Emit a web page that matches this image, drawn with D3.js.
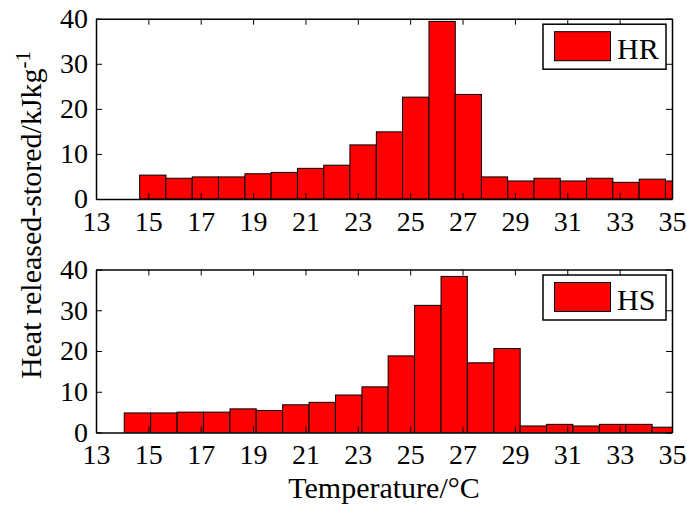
<!DOCTYPE html>
<html>
<head>
<meta charset="utf-8">
<script src="https://cdn.jsdelivr.net/npm/d3@7/dist/d3.min.js"></script>
<style>
  html, body { margin: 0; padding: 0; background: #fff; }
  svg { display: block; }
</style>
</head>
<body>
<svg id="chart" width="687" height="506"></svg>
<script>
// ---- data ----
const xTicks = [13, 15, 17, 19, 21, 23, 25, 27, 29, 31, 33, 35];
const yTicks = [0, 10, 20, 30, 40];
const binWidth = 1.004;

const hrCenters = [15.17, 16.17, 17.18, 18.18, 19.19, 20.19, 21.20, 22.20, 23.20, 24.21, 25.21,
                   26.22, 27.22, 28.22, 29.23, 30.23, 31.24, 32.24, 33.24, 34.25, 35.25];
const hrValues  = [5.3, 4.6, 4.9, 4.9, 5.6, 5.9, 6.8, 7.5, 12.0, 14.9, 22.6,
                   39.4, 23.2, 4.9, 4.0, 4.6, 4.0, 4.6, 3.7, 4.4, 4.0];

const hsCenters = [14.58, 15.59, 16.60, 17.61, 18.62, 19.62, 20.63, 21.64, 22.65, 23.66, 24.66,
                   25.67, 26.68, 27.69, 28.70, 29.70, 30.71, 31.72, 32.73, 33.74, 34.74];
const hsValues  = [4.8, 4.8, 5.0, 5.0, 5.8, 5.4, 6.8, 7.4, 9.2, 11.2, 18.8,
                   31.2, 38.3, 17.1, 20.6, 1.6, 2.0, 1.6, 2.0, 2.0, 1.3];

const xLabel = "Temperature/°C";
const yLabelMain = "Heat released-stored/kJkg";
const yLabelSup = "-1";

const FONT = "Liberation Serif, Times New Roman, Times, DejaVu Serif, serif";

// ---- layout ----
const svg = d3.select("#chart");
const left = 96, right = 672;
const panels = [
  { name: "HR", centers: hrCenters, values: hrValues, top: 18.7, bottom: 199 },
  { name: "HS", centers: hsCenters, values: hsValues, top: 269.5, bottom: 432.5 }
];

const x = d3.scaleLinear().domain([13, 35]).range([left, right]);

panels.forEach((p, i) => {
  const y = d3.scaleLinear().domain([0, 40]).range([p.bottom, p.top]);
  const g = svg.append("g");

  const clipId = "clip" + i;
  svg.append("clipPath").attr("id", clipId)
    .append("rect").attr("x", left).attr("y", p.top)
    .attr("width", right - left).attr("height", p.bottom - p.top);

  // bars
  g.append("g").attr("clip-path", `url(#${clipId})`)
    .selectAll("rect").data(p.values).join("rect")
    .attr("x", (d, k) => x(p.centers[k] - binWidth / 2))
    .attr("width", (d, k) => x(p.centers[k] + binWidth / 2) - x(p.centers[k] - binWidth / 2))
    .attr("y", d => y(d))
    .attr("height", d => y(0) - y(d))
    .attr("fill", "#ff0000")
    .attr("stroke", "#000")
    .attr("stroke-width", 1);

  // axes (inside ticks, box)
  const tickLen = 6;
  const axB = d3.axisBottom(x).tickValues(xTicks).tickSizeInner(-tickLen).tickSizeOuter(0).tickPadding(12);
  const axT = d3.axisTop(x).tickValues(xTicks).tickSizeInner(-tickLen).tickSizeOuter(0).tickFormat("");
  const axL = d3.axisLeft(y).tickValues(yTicks).tickSizeInner(-tickLen).tickSizeOuter(0).tickPadding(8);
  const axR = d3.axisRight(y).tickValues(yTicks).tickSizeInner(-tickLen).tickSizeOuter(0).tickFormat("");

  const styleAxis = sel => {
    sel.attr("font-family", FONT).attr("font-size", 28);
    sel.select(".domain").attr("stroke", "#000").attr("stroke-width", 1.5);
    sel.selectAll(".tick line").attr("stroke", "#000").attr("stroke-width", 1);
    sel.selectAll(".tick text").attr("fill", "#000").style("font-family", FONT);
  };

  g.append("g").attr("transform", `translate(0,${p.bottom})`).call(axB).call(styleAxis);
  g.append("g").attr("transform", `translate(0,${p.top})`).call(axT).call(styleAxis);
  g.append("g").attr("transform", `translate(${left},0)`).call(axL).call(styleAxis);
  g.append("g").attr("transform", `translate(${right},0)`).call(axR).call(styleAxis);

  // legend
  const lx = 543, ly = p.top + 5.5, lw = 123, lh = 45;
  const lg = g.append("g").attr("transform", `translate(${lx},${ly})`);
  lg.append("rect").attr("width", lw).attr("height", lh)
    .attr("fill", "#fff").attr("stroke", "#000").attr("stroke-width", 1.5);
  lg.append("rect").attr("x", 11.5).attr("y", 7.5).attr("width", 56).attr("height", 29)
    .attr("fill", "#ff0000").attr("stroke", "#000").attr("stroke-width", 1);
  lg.append("text").attr("x", 74).attr("y", 34.5)
    .style("font-family", FONT).attr("font-size", 30).attr("fill", "#000").text(p.name);
});

// x label
svg.append("text")
  .attr("x", (left + right) / 2).attr("y", 498)
  .attr("text-anchor", "middle")
  .style("font-family", FONT).attr("font-size", 30)
  .text(xLabel);

// y label
const yl = svg.append("text")
  .attr("transform", "translate(41,215) rotate(-90)")
  .attr("text-anchor", "middle")
  .style("font-family", FONT).attr("font-size", 30);
yl.append("tspan").text(yLabelMain);
yl.append("tspan").attr("dy", -11).attr("font-size", 21).text(yLabelSup);
</script>
</body>
</html>
